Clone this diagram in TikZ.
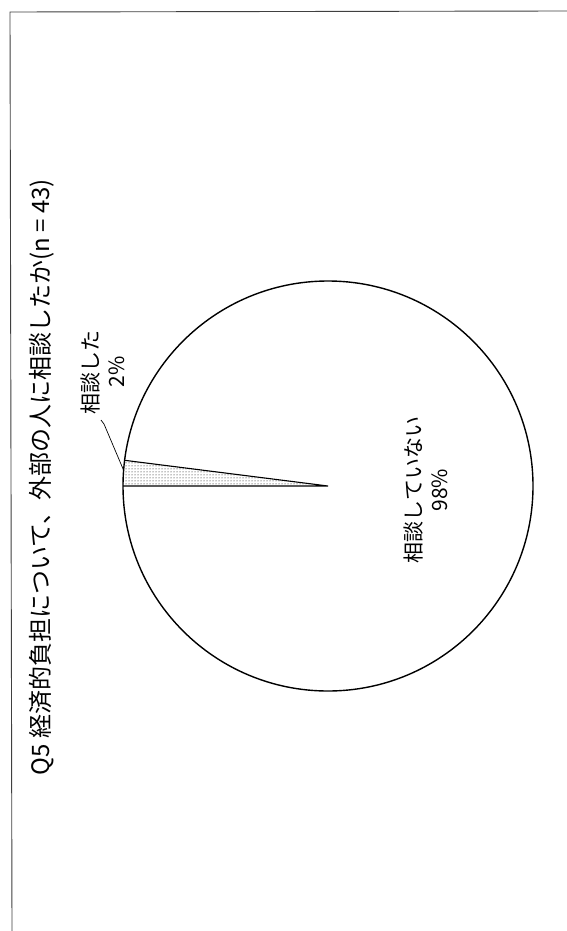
\documentclass[tikz,border=0pt]{standalone}
\usepackage{fontspec}
\setmainfont{Noto Sans CJK JP}
\usetikzlibrary{patterns}
\begin{document}
\begin{tikzpicture}[x=1pt,y=-1pt,
  frameline/.style={draw=black!75,line width=0.9pt},
  pieline/.style={draw=black,line width=1.4pt},
  lbl/.style={rotate=90,align=center,inner sep=0pt,font=\fontsize{21}{26}\selectfont},
  ttl/.style={rotate=90,inner sep=0pt,font=\fontsize{24}{28}\selectfont}]
\useasboundingbox (0,0) rectangle (567,931);
\fill[white] (0,0) rectangle (567,931);
% frame
\coordinate (ftl) at (10,12);
\coordinate (ftr) at (567,11);
\coordinate (fbl) at (12,931);
\draw[frameline] (ftr) -- (ftl) -- (fbl);
% pie
\coordinate (c) at (328,486);
\coordinate (w1) at (123,486);
\coordinate (w2) at (124.6,460.3);
\fill[pattern=dots,pattern color=black] (c) -- (w1) arc[start angle=180,end angle=187.2,radius=205] -- cycle;
\draw[pieline] (c) circle[radius=205];
\draw[line width=1.1pt] (w1) -- (c) -- (w2);
% leader
\coordinate (l0) at (101,420);
\coordinate (l1) at (104,424);
\coordinate (l2) at (123.5,470);
\draw[line width=0.7pt] (l0) -- (l1) -- (l2);
% labels
\node[ttl] (title) at (42,477) {Q5 経済的負担について、外部の人に相談したか(n = 43)};
\node[lbl] (yes) at (103,372) {相談した\\2\%};
\node[lbl] (no) at (426,490) {相談していない\\98\%};
\end{tikzpicture}
\end{document}
